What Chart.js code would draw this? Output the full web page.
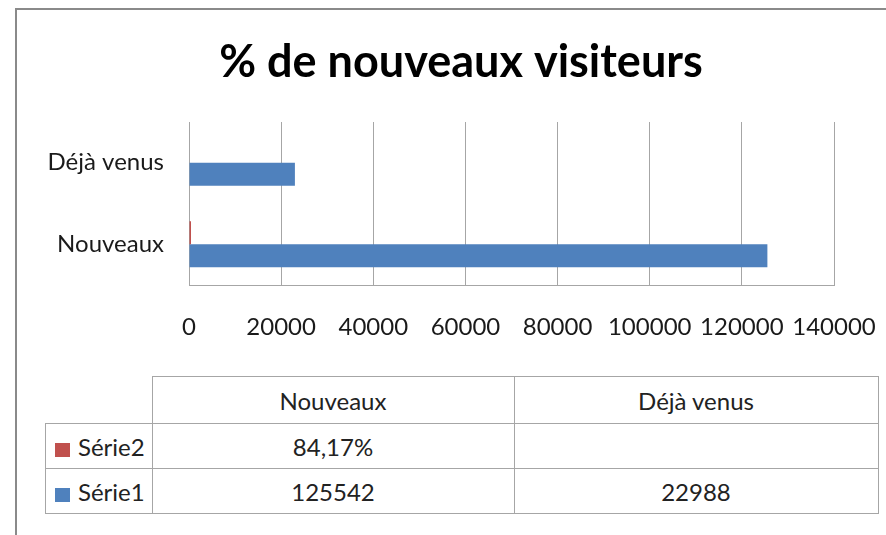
<!DOCTYPE html>
<html>
<head>
<meta charset="utf-8">
<script src="https://cdn.jsdelivr.net/npm/chart.js@4"></script>
<style>
  html, body { margin: 0; padding: 0; background: #fff; }
  body { width: 886px; height: 535px; position: relative; overflow: hidden; font-family: Lato, sans-serif; }
  .frame { position: absolute; left: 15px; top: 8px; width: 900px; height: 560px;
           border-top: 2px solid #8a8a8a; border-left: 2px solid #8a8a8a; }
  #chartBox { position: absolute; left: 34px; top: 0; width: 852px; height: 360px; }
  #dataTable { position: absolute; left: 45px; top: 376px; border-collapse: collapse;
               font-family: Lato, sans-serif; font-size: 24px; color: #222; }
  #dataTable td { border: 1px solid #a6a6a6; text-align: center; padding: 0; }
  #dataTable td.corner { border-top: none; border-left: none; }
  #dataTable td.legend { text-align: left; padding-left: 9px; white-space: nowrap; }
  .swatch { display: inline-block; width: 15px; height: 14px; margin-right: 8px; vertical-align: -1px; }
</style>
</head>
<body>
<div class="frame"></div>
<div id="chartBox"><canvas id="chart" width="852" height="360"></canvas></div>
<table id="dataTable"></table>

<script>
const chartTitle = '% de nouveaux visiteurs';
const categories = ['Nouveaux', 'Déjà venus'];
const serie1Name = 'Série1';
const serie1Values = [125542, 22988];
const serie2Name = 'Série2';
const serie2Values = [0.8417, null];
const xTicks = [0, 20000, 40000, 60000, 80000, 100000, 120000, 140000];

const blue = '#4f81bd';
const red = '#c0504d';
const gridColor = '#a6a6a6';

function formatPercent(v) {
  if (v === null || v === undefined) return '';
  return (v * 100).toFixed(2).replace('.', ',') + '%';
}

// data table under the chart (Excel style, Série2 listed first)
function renderTable() {
  const table = document.getElementById('dataTable');
  const colWidths = [106, 361, 363];
  let html = `<tr style="height:47px"><td class="corner" style="width:${colWidths[0]}px"></td>`;
  categories.forEach((c, i) => {
    html += `<td style="width:${colWidths[i + 1]}px">${c}</td>`;
  });
  html += '</tr>';

  const rows = [
    { name: serie2Name, color: red, values: serie2Values.map(formatPercent) },
    { name: serie1Name, color: blue, values: serie1Values.map(v => v === null ? '' : String(v)) }
  ];
  rows.forEach(r => {
    html += `<tr style="height:45px"><td class="legend"><span class="swatch" style="background:${r.color}"></span>${r.name}</td>`;
    r.values.forEach(v => { html += `<td>${v}</td>`; });
    html += '</tr>';
  });
  table.innerHTML = html;
}

renderTable();

// the y labels sit partly in the left padding, so widen their clip box
const unclipYLabels = {
  id: 'unclipYLabels',
  afterLayout(chart) {
    chart.scales.y.left = 0;
  }
};

const ctx = document.getElementById('chart').getContext('2d');
new Chart(ctx, {
  type: 'bar',
  data: {
    labels: categories,
    datasets: [
      {
        label: serie2Name,
        data: serie2Values,
        backgroundColor: red,
        minBarLength: 2
      },
      {
        label: serie1Name,
        data: serie1Values,
        backgroundColor: blue
      }
    ]
  },
  options: {
    indexAxis: 'y',
    responsive: false,
    animation: false,
    categoryPercentage: 0.564,
    barPercentage: 1.0,
    layout: { padding: { left: 54, right: 52, top: 0, bottom: 0 } },
    plugins: {
      legend: { display: false },
      tooltip: { enabled: false },
      title: {
        display: true,
        text: chartTitle,
        color: '#000',
        font: { family: 'Lato', size: 45, weight: 'bold', lineHeight: 1.2 },
        padding: { top: 35, bottom: 33 }
      }
    },
    scales: {
      x: {
        min: xTicks[0],
        max: xTicks[xTicks.length - 1],
        afterBuildTicks: (scale) => { scale.ticks = xTicks.map(v => ({ value: v })); },
        afterFit: (scale) => {
          scale.height = 75;
          scale.paddingLeft = 0;
          scale.paddingRight = 0;
        },
        ticks: {
          callback: (v) => String(v),
          color: '#1a1a1a',
          padding: 28,
          maxRotation: 0,
          font: { family: 'Lato', size: 24 }
        },
        grid: { color: gridColor, drawTicks: false },
        border: { display: true, color: gridColor }
      },
      y: {
        reverse: true,
        afterFit: (scale) => { scale.width = 101; },
        ticks: {
          color: '#1a1a1a',
          padding: 25,
          font: { family: 'Lato', size: 24 }
        },
        grid: { display: false, drawTicks: false },
        border: { display: true, color: gridColor }
      }
    }
  },
  plugins: [unclipYLabels]
});
</script>
</body>
</html>
